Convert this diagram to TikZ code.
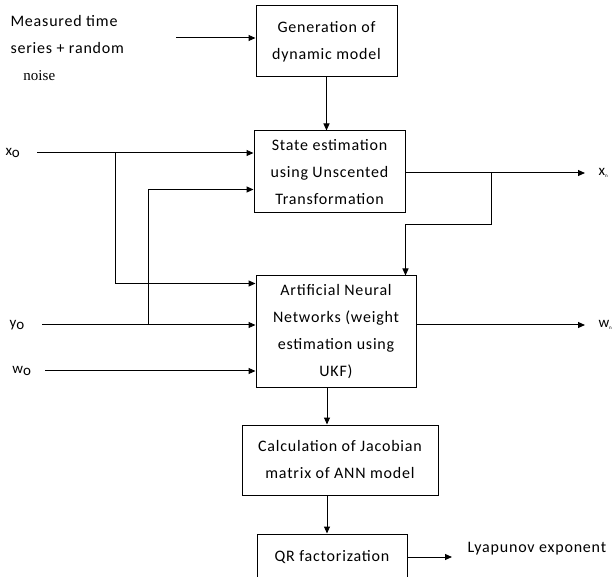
\documentclass[tikz,border=0pt]{standalone}
\usepackage{fontspec}
\setmainfont{Carlito}[LetterSpace=5]
\newfontfamily\noisefont{Liberation Serif}
\usetikzlibrary{arrows.meta}

\begin{document}
\begin{tikzpicture}
  [x=1pt,y=-1pt,line width=1pt,>={Triangle[length=7pt,width=6pt]},
   every node/.style={font=\fontsize{16}{27}\selectfont},
   block/.style={draw,align=center,inner sep=0pt},
   io/.style={font=\fontsize{15}{15}\selectfont,inner sep=0pt}]
  \useasboundingbox (0,0) rectangle (616,577);
  \clip (0,0) rectangle (616,577);
  % blocks
  \node[block,minimum width=141pt,minimum height=71pt] (gen) at (326.5,41.5) {Generation of\\dynamic model};
  \node[block,minimum width=151pt,minimum height=82pt] (est) at (329.5,172) {State estimation\\using Unscented\\Transformation};
  \node[block,minimum width=160pt,minimum height=111pt] (ann) at (336,331.5) {Artificial Neural\\Networks (weight\\estimation using\\UKF)};
  \node[block,minimum width=196pt,minimum height=70pt] (jac) at (340,460) {Calculation of Jacobian\\matrix of ANN model};
  \node[block,minimum width=150pt,minimum height=46pt] (qr) at (332,557) {QR factorization};
  % texts
  \node[align=left,anchor=north west,inner sep=0pt] (meas) at (10,15) {Measured time\\series + random\\\hspace*{13pt}{\noisefont\fontsize{15}{27}\selectfont noise}};
  \node[io,anchor=west] (nx) at (5,153) {x\raisebox{-2.5pt}{o}};
  \node[io,anchor=west] (ny) at (9,325) {y\raisebox{-2.5pt}{o}};
  \node[io,anchor=west] (nw) at (12,371) {w\raisebox{-2.5pt}{o}};
  \node[io,anchor=west] (nxn) at (598,173) {x\textsubscript{\tiny n}};
  \node[io,anchor=west] (nwn) at (598,325) {w\textsubscript{\tiny n}};
  \node[anchor=west,inner sep=0pt] (lya) at (467,549) {Lyapunov exponent};
  % free ends and branch points
  \coordinate (im) at (176,38);
  \coordinate (ix) at (37,153);
  \coordinate (iy) at (42,325);
  \coordinate (iw) at (45,371);
  \coordinate (bx) at (115,153);
  \coordinate (by) at (148,325);
  \coordinate (ox) at (585,173);
  \coordinate (bo) at (491,173);
  \coordinate (ow) at (585,325);
  \coordinate (ol) at (452,557);
  % connectors
  \draw[->] (im) -- (im -| gen.west);
  \draw[->] (gen) -- (gen |- est.north);
  \draw[->] (ix) -- (ix -| est.west);
  \draw[->] (bx) |- ([yshift=-8pt]ann.north west);
  \draw[->] (iy) -- (iy -| ann.west);
  \draw[->] (by) |- ([yshift=24pt]est.south west);
  \draw[->] (iw) -- (iw -| ann.west);
  \draw[->] (est.east |- ox) -- (ox);
  \draw[->] (bo) -- (491,225) -| ([xshift=-11pt]ann.north east);
  \draw[->] (ann.east |- ow) -- (ow);
  \draw[->] ([xshift=-9pt]ann.south) -- ([xshift=-9pt]ann.south |- jac.north);
  \draw[->] ([xshift=-13pt]jac.south) -- ([xshift=-13pt]jac.south |- qr.north);
  \draw[->] (qr.east |- ol) -- (ol);
\end{tikzpicture}
\end{document}
